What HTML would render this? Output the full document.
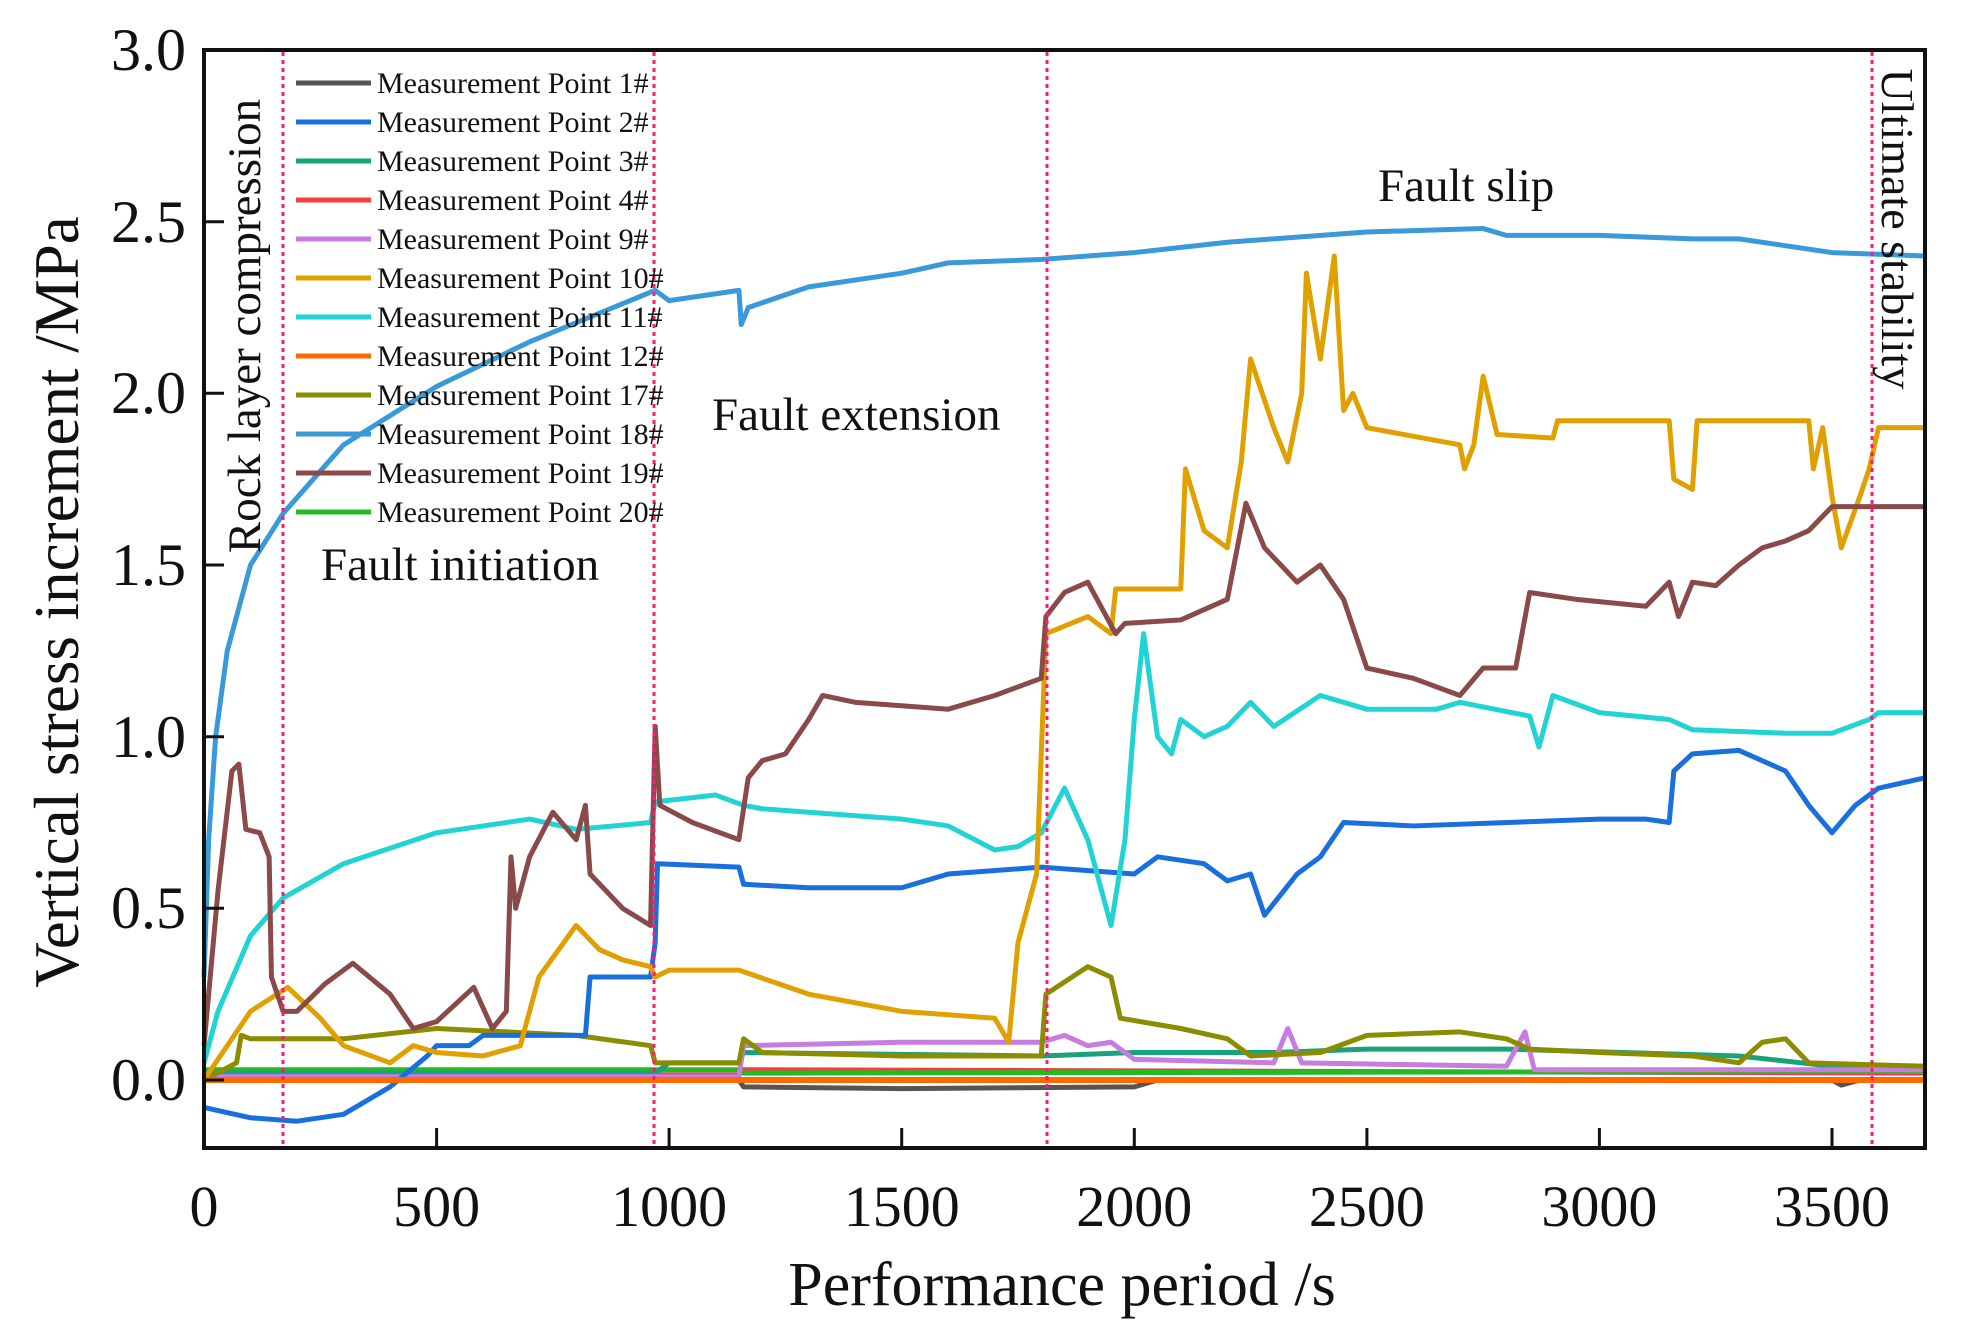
<!DOCTYPE html>
<html><head><meta charset="utf-8"><style>
html,body{margin:0;padding:0;background:#fff;}
svg{display:block;}
text{font-family:"Liberation Serif",serif;fill:#111;}
</style></head><body>
<svg width="1967" height="1341" viewBox="0 0 1967 1341" xmlns="http://www.w3.org/2000/svg">
<rect width="1967" height="1341" fill="#fff"/>
<g fill="none" stroke-linejoin="round" transform="translate(204 1080) scale(0.46514 -343.33)">
<polyline vector-effect="non-scaling-stroke" stroke="#555" stroke-width="5" points="0,0 1150,0 1160,-0.02 1500,-0.025 2000,-0.02 2050,0 3500,0 3520,-0.015 3560,0 3700,0"/>
<polyline vector-effect="non-scaling-stroke" stroke="#f04040" stroke-width="5" points="0,0.015 1150,0.015 1160,0.03 3700,0.02"/>
<polyline vector-effect="non-scaling-stroke" stroke="#22bb22" stroke-width="5" points="0,0.03 1150,0.03 1160,0.02 3700,0.025"/>
<polyline vector-effect="non-scaling-stroke" stroke="#1aa37a" stroke-width="5" points="0,0.02 970,0.02 1000,0.05 1150,0.05 1160,0.08 1800,0.07 2000,0.08 2300,0.08 2500,0.09 2800,0.09 3300,0.07 3500,0.04 3700,0.04"/>
<polyline vector-effect="non-scaling-stroke" stroke="#c77ce0" stroke-width="5" points="0,0.01 1150,0.01 1160,0.1 1500,0.11 1800,0.11 1850,0.13 1900,0.1 1950,0.11 2000,0.06 2300,0.05 2330,0.15 2360,0.05 2800,0.04 2840,0.14 2860,0.03 3700,0.03"/>
<polyline vector-effect="non-scaling-stroke" stroke="#8c8c00" stroke-width="5" points="0,0 70,0.05 80,0.13 100,0.12 300,0.12 500,0.15 650,0.14 800,0.13 960,0.1 970,0.05 1150,0.05 1160,0.12 1200,0.08 1500,0.07 1800,0.07 1810,0.25 1900,0.33 1950,0.3 1970,0.18 2100,0.15 2200,0.12 2250,0.07 2400,0.08 2500,0.13 2700,0.14 2800,0.12 2850,0.09 3000,0.08 3200,0.07 3300,0.05 3350,0.11 3400,0.12 3450,0.05 3700,0.04"/>
<polyline vector-effect="non-scaling-stroke" stroke="#1a6fdf" stroke-width="5" points="0,-0.08 100,-0.11 200,-0.12 300,-0.1 400,-0.02 480,0.07 500,0.1 570,0.1 600,0.13 820,0.13 830,0.3 960,0.3 970,0.4 975,0.63 1150,0.62 1160,0.57 1300,0.56 1500,0.56 1600,0.6 1800,0.62 2000,0.6 2050,0.65 2150,0.63 2200,0.58 2250,0.6 2280,0.48 2350,0.6 2400,0.65 2450,0.75 2600,0.74 3000,0.76 3100,0.76 3150,0.75 3160,0.9 3200,0.95 3300,0.96 3400,0.9 3450,0.8 3500,0.72 3550,0.8 3600,0.85 3700,0.88"/>
<polyline vector-effect="non-scaling-stroke" stroke="#22d3d3" stroke-width="5" points="0,0.05 30,0.2 100,0.42 170,0.53 300,0.63 500,0.72 700,0.76 800,0.73 960,0.75 970,0.81 1100,0.83 1160,0.8 1200,0.79 1300,0.78 1500,0.76 1600,0.74 1700,0.67 1750,0.68 1800,0.72 1850,0.85 1900,0.7 1950,0.45 1980,0.7 2000,1.05 2020,1.3 2050,1.0 2080,0.95 2100,1.05 2150,1.0 2200,1.03 2250,1.1 2300,1.03 2400,1.12 2500,1.08 2650,1.08 2700,1.1 2850,1.06 2870,0.97 2900,1.12 3000,1.07 3150,1.05 3200,1.02 3400,1.01 3500,1.01 3580,1.05 3600,1.07 3700,1.07"/>
<polyline vector-effect="non-scaling-stroke" stroke="#e0a000" stroke-width="5" points="0,0 100,0.2 180,0.27 250,0.18 300,0.1 400,0.05 450,0.1 500,0.08 600,0.07 680,0.1 720,0.3 800,0.45 850,0.38 900,0.35 960,0.33 970,0.3 1000,0.32 1150,0.32 1300,0.25 1500,0.2 1700,0.18 1730,0.11 1750,0.4 1790,0.6 1810,1.3 1900,1.35 1950,1.3 1960,1.43 2100,1.43 2110,1.78 2150,1.6 2200,1.55 2230,1.8 2250,2.1 2300,1.9 2330,1.8 2360,2.0 2370,2.35 2400,2.1 2430,2.4 2450,1.95 2470,2.0 2500,1.9 2700,1.85 2710,1.78 2730,1.85 2750,2.05 2780,1.88 2900,1.87 2910,1.92 3150,1.92 3160,1.75 3200,1.72 3210,1.92 3450,1.92 3460,1.78 3480,1.9 3500,1.7 3520,1.55 3560,1.7 3580,1.78 3600,1.9 3700,1.9"/>
<polyline vector-effect="non-scaling-stroke" stroke="#8a4a4a" stroke-width="5" points="0,0.1 30,0.55 60,0.9 75,0.92 90,0.73 120,0.72 140,0.65 145,0.3 170,0.2 200,0.2 260,0.28 320,0.34 400,0.25 450,0.15 500,0.17 580,0.27 620,0.15 650,0.2 660,0.65 670,0.5 700,0.65 750,0.78 800,0.7 820,0.8 830,0.6 900,0.5 960,0.45 970,1.03 980,0.8 1050,0.75 1150,0.7 1170,0.88 1200,0.93 1250,0.95 1300,1.05 1330,1.12 1400,1.1 1500,1.09 1600,1.08 1700,1.12 1800,1.17 1810,1.35 1850,1.42 1900,1.45 1960,1.3 1980,1.33 2100,1.34 2200,1.4 2240,1.68 2280,1.55 2350,1.45 2400,1.5 2450,1.4 2500,1.2 2600,1.17 2700,1.12 2750,1.2 2820,1.2 2850,1.42 2950,1.4 3100,1.38 3150,1.45 3170,1.35 3200,1.45 3250,1.44 3300,1.5 3350,1.55 3400,1.57 3450,1.6 3500,1.67 3700,1.67"/>
<polyline vector-effect="non-scaling-stroke" stroke="#3a9ad9" stroke-width="5" points="0,0.3 10,0.7 25,1.0 50,1.25 100,1.5 170,1.65 300,1.85 500,2.02 700,2.15 970,2.3 1000,2.27 1150,2.3 1155,2.2 1170,2.25 1300,2.31 1500,2.35 1600,2.38 1800,2.39 2000,2.41 2200,2.44 2500,2.47 2750,2.48 2800,2.46 3000,2.46 3200,2.45 3300,2.45 3500,2.41 3700,2.4"/>
<polyline vector-effect="non-scaling-stroke" stroke="#ff6a00" stroke-width="6" points="0,0 3700,0"/>
</g>
<g stroke="#ff1a7a" stroke-width="3" stroke-dasharray="4 4">
<line x1="283" y1="52" x2="283" y2="1146"/>
<line x1="654" y1="52" x2="654" y2="1146"/>
<line x1="1047" y1="52" x2="1047" y2="1146"/>
<line x1="1872" y1="52" x2="1872" y2="1146"/>
</g>
<rect x="204" y="50" width="1721" height="1098" fill="none" stroke="#111" stroke-width="4"/>
<g stroke="#111" stroke-width="3">
<line x1="204" y1="1080" x2="224" y2="1080"/><line x1="204" y1="908.3" x2="224" y2="908.3"/><line x1="204" y1="736.7" x2="224" y2="736.7"/><line x1="204" y1="565" x2="224" y2="565"/><line x1="204" y1="393.3" x2="224" y2="393.3"/><line x1="204" y1="221.7" x2="224" y2="221.7"/>
<line x1="436.6" y1="1148" x2="436.6" y2="1128"/><line x1="669.1" y1="1148" x2="669.1" y2="1128"/><line x1="901.7" y1="1148" x2="901.7" y2="1128"/><line x1="1134.3" y1="1148" x2="1134.3" y2="1128"/><line x1="1366.9" y1="1148" x2="1366.9" y2="1128"/><line x1="1599.4" y1="1148" x2="1599.4" y2="1128"/><line x1="1832" y1="1148" x2="1832" y2="1128"/>
</g>
<g font-size="60" text-anchor="end">
<text x="186" y="1100">0.0</text><text x="186" y="928">0.5</text><text x="186" y="757">1.0</text><text x="186" y="585">1.5</text><text x="186" y="413">2.0</text><text x="186" y="242">2.5</text><text x="186" y="70">3.0</text>
</g>
<g font-size="58" text-anchor="middle">
<text x="204" y="1226">0</text><text x="436.6" y="1226">500</text><text x="669.1" y="1226">1000</text><text x="901.7" y="1226">1500</text><text x="1134.3" y="1226">2000</text><text x="1366.9" y="1226">2500</text><text x="1599.4" y="1226">3000</text><text x="1832" y="1226">3500</text>
</g>
<text x="1062" y="1305" font-size="62" text-anchor="middle">Performance period /s</text>
<text transform="translate(78 602) rotate(-90)" font-size="63" text-anchor="middle">Vertical stress increment /MPa</text>
<text transform="translate(260 326) rotate(-90)" font-size="47" text-anchor="middle">Rock layer compression</text>
<text transform="translate(1882 229) rotate(90)" font-size="46" text-anchor="middle">Ultimate stability</text>
<text x="321" y="580" font-size="47">Fault initiation</text>
<text x="712" y="430" font-size="47">Fault extension</text>
<text x="1378" y="201" font-size="47">Fault slip</text>
<g stroke-width="5">
<line x1="296" y1="83" x2="371" y2="83" stroke="#555"/>
<line x1="296" y1="122" x2="371" y2="122" stroke="#1a6fdf"/>
<line x1="296" y1="161" x2="371" y2="161" stroke="#1aa37a"/>
<line x1="296" y1="200" x2="371" y2="200" stroke="#f04040"/>
<line x1="296" y1="239" x2="371" y2="239" stroke="#c77ce0"/>
<line x1="296" y1="278" x2="371" y2="278" stroke="#e0a000"/>
<line x1="296" y1="317" x2="371" y2="317" stroke="#22d3d3"/>
<line x1="296" y1="356" x2="371" y2="356" stroke="#ff6a00"/>
<line x1="296" y1="395" x2="371" y2="395" stroke="#8c8c00"/>
<line x1="296" y1="434" x2="371" y2="434" stroke="#3a9ad9"/>
<line x1="296" y1="473" x2="371" y2="473" stroke="#8a4a4a"/>
<line x1="296" y1="512" x2="371" y2="512" stroke="#22bb22"/>
</g>
<g font-size="30">
<text x="377" y="93">Measurement Point 1#</text>
<text x="377" y="132">Measurement Point 2#</text>
<text x="377" y="171">Measurement Point 3#</text>
<text x="377" y="210">Measurement Point 4#</text>
<text x="377" y="249">Measurement Point 9#</text>
<text x="377" y="288">Measurement Point 10#</text>
<text x="377" y="327">Measurement Point 11#</text>
<text x="377" y="366">Measurement Point 12#</text>
<text x="377" y="405">Measurement Point 17#</text>
<text x="377" y="444">Measurement Point 18#</text>
<text x="377" y="483">Measurement Point 19#</text>
<text x="377" y="522">Measurement Point 20#</text>
</g>
</svg>
</body></html>
